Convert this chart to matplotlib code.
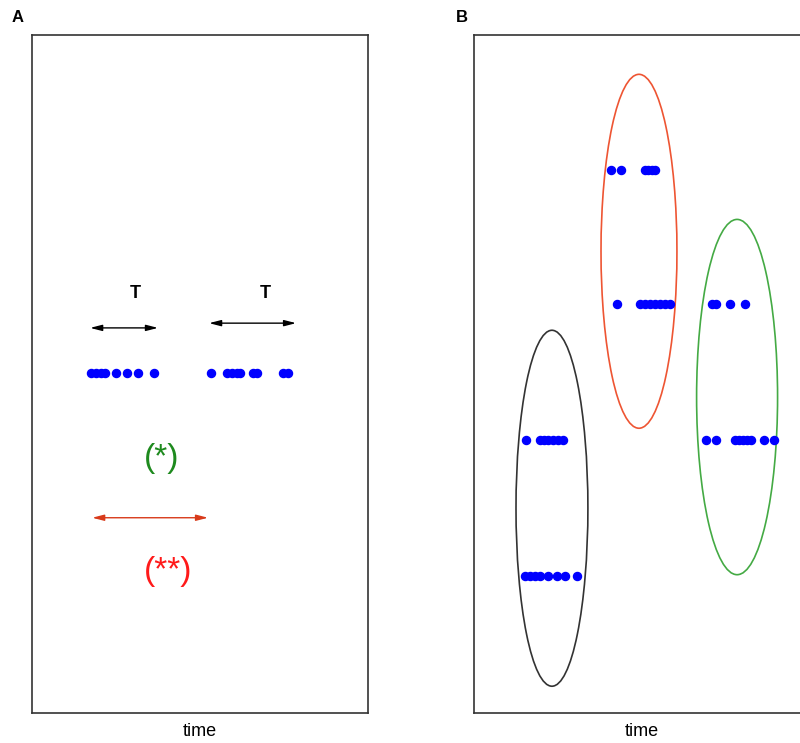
import matplotlib.pyplot as plt
from matplotlib.patches import Ellipse

plt.rcParams['font.family'] = ['Liberation Sans', 'DejaVu Sans']

# panel A: one spike train at a single level (time units 0-100)
spikes_a_left = [17.6, 19.0, 20.5, 21.7, 25.0, 28.3, 31.5, 36.3]
spikes_a_right = [53.3, 58.0, 59.5, 61.0, 61.9, 65.8, 67.0, 74.7, 76.2]
level_a = 50.1
window1 = (17.3, 37.5)
window2 = (52.7, 78.6)
window_red = (17.9, 52.4)

# panel B: grouped spike rows with enclosing ellipses
rows_b = {
    'black_hi': (40.3, [15.5, 19.6, 20.8, 22.0, 23.5, 25.0, 26.5]),
    'black_lo': (20.2, [15.2, 16.7, 18.2, 19.6, 22.0, 24.7, 27.1, 30.7]),
    'red_hi': (80.1, [40.8, 43.8, 50.9, 51.8, 53.0, 53.9]),
    'red_lo': (60.3, [42.6, 49.4, 50.9, 52.4, 53.9, 55.4, 56.8, 58.3]),
    'green_hi': (60.3, [70.8, 72.0, 76.2, 80.7]),
    'green_lo': (40.3, [69.0, 72.0, 77.7, 78.9, 80.1, 81.3, 82.4, 86.3, 89.3]),
}
# (x center, y center, width, height, colour)
ellipses = [
    (23.2, 30.2, 21.4, 52.5, '#333333'),
    (49.1, 68.1, 22.6, 52.2, '#ee5533'),
    (78.3, 46.6, 24.1, 52.4, '#44aa44'),
]

fig = plt.figure(figsize=(8, 7.43), dpi=100)
W, H = 800, 743
axA = fig.add_axes([32 / W, 1 - 713 / H, 336 / W, 678 / H])
axB = fig.add_axes([474 / W, 1 - 713 / H, 336 / W, 678 / H])

for ax in (axA, axB):
    ax.set_xlim(0, 100)
    ax.set_ylim(0, 100)
    ax.set_xticks([])
    ax.set_yticks([])
    for s in ax.spines.values():
        s.set_color('#333333')
        s.set_linewidth(1.2)
    ax.set_xlabel('time', fontsize=13, labelpad=7)

dot = dict(marker='o', color='#0000ff', markersize=5.8, linestyle='none')

# panel A
axA.plot(spikes_a_left, [level_a] * len(spikes_a_left), **dot)
axA.plot(spikes_a_right, [level_a] * len(spikes_a_right), **dot)
arr = '<|-|>,head_length=0.7,head_width=0.18'
axA.annotate('', xy=(window1[1], 56.8), xytext=(window1[0], 56.8),
             arrowprops=dict(arrowstyle=arr, color='black', lw=1, shrinkA=0, shrinkB=0))
axA.annotate('', xy=(window2[1], 57.5), xytext=(window2[0], 57.5),
             arrowprops=dict(arrowstyle=arr, color='black', lw=1, shrinkA=0, shrinkB=0))
axA.text(30.6, 61.9, 'T', fontsize=13, fontweight='bold', ha='center', va='center')
axA.text(69.3, 61.9, 'T', fontsize=13, fontweight='bold', ha='center', va='center')
axA.text(38.7, 37.6, '(*)', fontsize=24, color='#1e8a1e', ha='center', va='center')
axA.annotate('', xy=(window_red[1], 28.8), xytext=(window_red[0], 28.8),
             arrowprops=dict(arrowstyle=arr, color='#d83a1a', lw=1, shrinkA=0, shrinkB=0))
axA.text(40.5, 20.8, '(**)', fontsize=24, color='#ff1a1a', ha='center', va='center')

# panel B
for ex, ey, ew, eh, ec in ellipses:
    axB.add_patch(Ellipse((ex, ey), ew, eh, fill=False, edgecolor=ec, lw=1.2))
for y, xs in rows_b.values():
    axB.plot(xs, [y] * len(xs), **dot)

fig.text(18 / W, 1 - 18 / H, 'A', fontsize=12, fontweight='bold', ha='center', va='center')
fig.text(462 / W, 1 - 18 / H, 'B', fontsize=12, fontweight='bold', ha='center', va='center')

fig.savefig('out.png', dpi=100)
